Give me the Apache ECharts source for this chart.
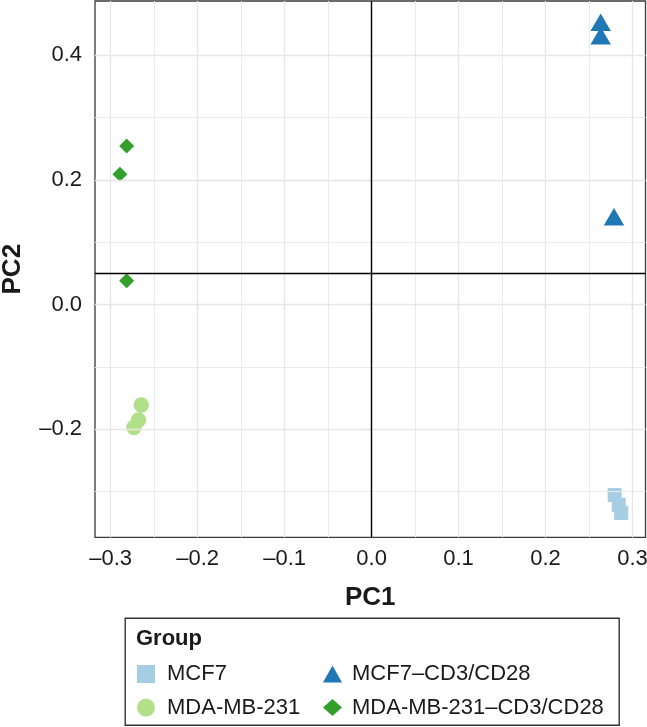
<!DOCTYPE html>
<html>
<head>
<meta charset="utf-8">
<script src="https://cdn.jsdelivr.net/npm/echarts@6/dist/echarts.min.js"></script>
<style>
html,body{margin:0;padding:0;background:#fff;}
#chart{width:647px;height:727px;}
</style>
</head>
<body>
<div id="chart"></div>
<script>
// ---- data ----
const groupNames = ['MCF7', 'MCF7–CD3/CD28', 'MDA-MB-231', 'MDA-MB-231–CD3/CD28'];
const mcf7PC1 = [0.2795, 0.2842, 0.2870];
const mcf7PC2 = [-0.3055, -0.3215, -0.3344];
const mcf7CdPC1 = [0.2634, 0.2634, 0.2787];
const mcf7CdPC2 = [0.4478, 0.4261, 0.1358];
const mdaPC1 = [-0.2648, -0.2680, -0.2732];
const mdaPC2 = [-0.1612, -0.1852, -0.1973];
const mdaCdPC1 = [-0.2816, -0.2893, -0.2816];
const mdaCdPC2 = [0.2542, 0.2088, 0.0380];
const xTicks = [-0.3, -0.2, -0.1, 0.0, 0.1, 0.2, 0.3];
const yTicks = [-0.2, 0.0, 0.2, 0.4];
const xMinorGrid = [-0.25, -0.15, -0.05, 0.05, 0.15, 0.25];
const yMinorGrid = [-0.3, -0.1, 0.1, 0.3];
const refLineX = 0.0;
const refLineY = 0.05;
const axisTitleX = 'PC1';
const axisTitleY = 'PC2';
const legendTitle = 'Group';

// ---- helpers ----
const zip = (a, b) => a.map((v, i) => [v, b[i]]);
const fmt = v => Number(v).toFixed(1).replace('-', '–');
const FONT = '"Liberation Sans", Arial, Helvetica, sans-serif';
const colors = ['#A6CEE3', '#1F78B4', '#B2DF8A', '#33A02C'];

const gridLine = (arr, key, width, color) => arr.map(v => ({
  [key]: v, lineStyle: {color: color, width: width, type: 'solid'}
}));

const chart = echarts.init(document.getElementById('chart'), null, {renderer: 'canvas'});
const option = {
  backgroundColor: '#ffffff',
  animation: false,
  grid: {
    left: 95, right: 1.5, top: 1, bottom: 189.6,
    containLabel: false, outerBoundsMode: 'none',
    show: true, borderColor: '#3a3a3a', borderWidth: 1.3, backgroundColor: 'transparent'
  },
  xAxis: {
    type: 'value', min: -0.318, max: 0.31494,
    name: axisTitleX, nameLocation: 'middle', nameGap: 47,
    nameTextStyle: {fontFamily: FONT, fontSize: 26, fontWeight: 'bold', color: '#1a1a1a'},
    axisLine: {show: false},
    axisTick: {show: true, length: 5, customValues: xTicks, lineStyle: {color: '#333', width: 1.1}},
    axisLabel: {customValues: xTicks, formatter: fmt, margin: 11, fontFamily: FONT, fontSize: 22, color: '#1a1a1a'},
    splitLine: {show: false}
  },
  yAxis: {
    type: 'value', min: -0.3735, max: 0.4868,
    name: axisTitleY, nameLocation: 'middle', nameGap: 69, nameRotate: 90,
    nameTextStyle: {fontFamily: FONT, fontSize: 26, fontWeight: 'bold', color: '#1a1a1a'},
    axisLine: {show: false},
    axisTick: {show: true, length: 5, customValues: yTicks, lineStyle: {color: '#333', width: 1.1}},
    axisLabel: {customValues: yTicks, formatter: fmt, margin: 13, fontFamily: FONT, fontSize: 22, color: '#1a1a1a'},
    splitLine: {show: false}
  },
  title: {
    text: legendTitle, left: 136, top: 628,
    textStyle: {fontFamily: FONT, fontSize: 22, fontWeight: 'bold', color: '#1a1a1a'},
    padding: 0
  },
  legend: [
    {
      orient: 'vertical', left: 137, top: 663, itemWidth: 18, itemHeight: 18, itemGap: 11.6,
      selectedMode: false, data: [groupNames[0], groupNames[2]], padding: 0,
      textStyle: {fontFamily: FONT, fontSize: 22, color: '#1a1a1a', padding: [0, 0, 0, 7]}
    },
    {
      orient: 'vertical', left: 323, top: 663, itemWidth: 19, itemHeight: 17, itemGap: 11.6,
      selectedMode: false, data: [groupNames[1], groupNames[3]], padding: 0,
      textStyle: {fontFamily: FONT, fontSize: 22, color: '#1a1a1a', padding: [0, 0, 0, 5]}
    }
  ],
  graphic: [{
    type: 'rect', left: 124.5, top: 617.5, z: -1,
    shape: {width: 494, height: 107},
    style: {fill: 'transparent', stroke: '#333', lineWidth: 1.4}
  }],
  series: [
    {
      name: '_grid', type: 'scatter', data: [], z: 1, silent: true,
      markLine: {
        silent: true, symbol: ['none', 'none'], label: {show: false}, animation: false,
        emphasis: {disabled: true},
        data: [].concat(
          gridLine(xMinorGrid, 'xAxis', 1, '#EBEBEB'),
          gridLine(yMinorGrid, 'yAxis', 1, '#EBEBEB'),
          gridLine(xTicks, 'xAxis', 1.3, '#E6E6E6'),
          gridLine(yTicks, 'yAxis', 1.3, '#E6E6E6'),
          [{xAxis: refLineX, lineStyle: {color: '#000', width: 1.4, type: 'solid'}},
           {yAxis: refLineY, lineStyle: {color: '#000', width: 1.4, type: 'solid'}}]
        )
      }
    },
    {
      name: groupNames[0], type: 'scatter', z: 3, symbol: 'square', symbolSize: 14,
      itemStyle: {color: colors[0], opacity: 1}, data: zip(mcf7PC1, mcf7PC2)
    },
    {
      name: groupNames[1], type: 'scatter', z: 3, symbol: 'triangle', symbolSize: [20.5, 17.5],
      symbolOffset: [0, -3],
      itemStyle: {color: colors[1], opacity: 1}, data: zip(mcf7CdPC1, mcf7CdPC2)
    },
    {
      name: groupNames[2], type: 'scatter', z: 3, symbol: 'circle', symbolSize: 15.5,
      itemStyle: {color: colors[2], opacity: 1}, data: zip(mdaPC1, mdaPC2)
    },
    {
      name: groupNames[3], type: 'scatter', z: 3, symbol: 'diamond', symbolSize: [15, 15],
      itemStyle: {color: colors[3], opacity: 1}, data: zip(mdaCdPC1, mdaCdPC2)
    }
  ]
};
chart.setOption(option);
</script>
</body>
</html>
